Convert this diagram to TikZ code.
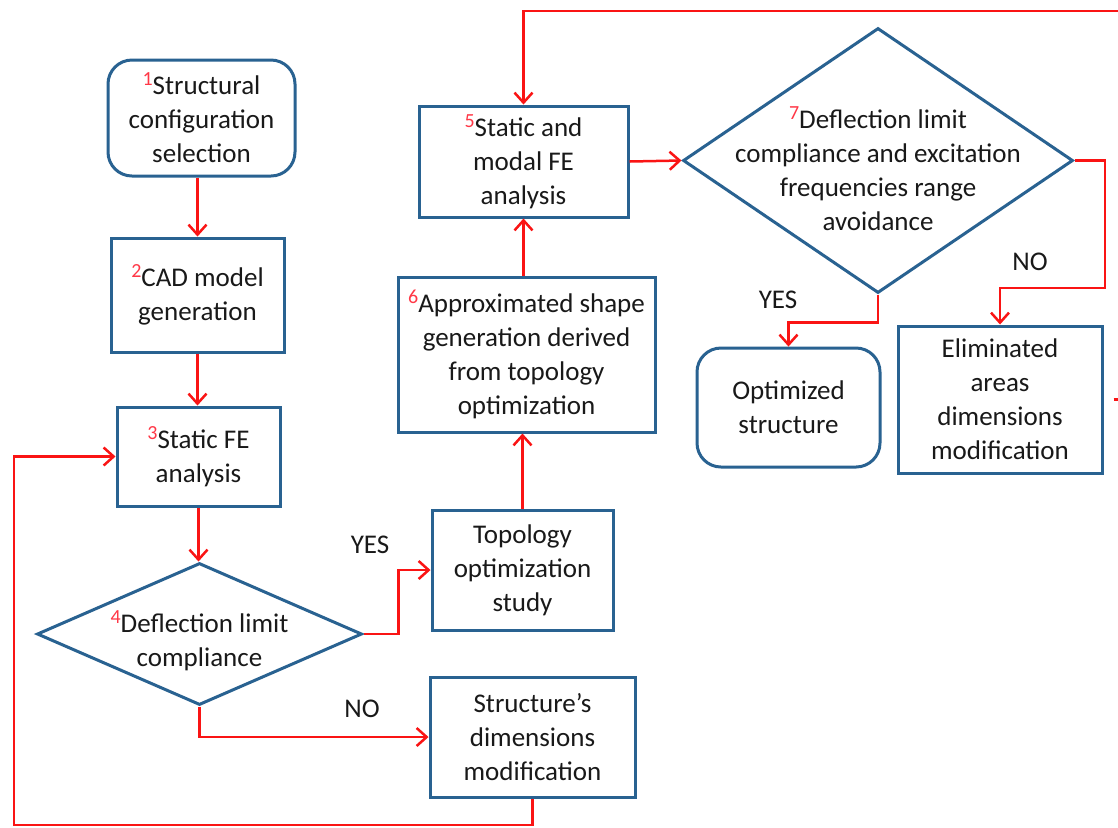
\documentclass[tikz,border=0pt]{standalone}
\usepackage{fontspec}
\setmainfont{Carlito}
\usetikzlibrary{shapes.geometric,arrows.meta}
\definecolor{flowred}{RGB}{250,20,20}
\definecolor{numred}{RGB}{255,55,70}
\definecolor{boxblue}{RGB}{41,98,145}
\definecolor{txtcol}{RGB}{25,25,25}
\newcommand{\stepnum}[1]{\raisebox{4.5pt}{\fontsize{10}{10}\selectfont\color{numred}#1}}
\tikzset{
  base/.style={draw=boxblue, line width=1.5pt, fill=white, text=txtcol, align=center,
    font=\fontsize{13.5}{17}\selectfont, inner sep=2pt},
  stepbox/.style={base, rectangle},
  roundbox/.style={base, rectangle, rounded corners=12pt},
  decision/.style={base, diamond, inner sep=0pt},
  dtext/.style={text=txtcol, align=center, font=\fontsize{13.5}{17}\selectfont},
  lbl/.style={text=txtcol, font=\fontsize{13.5}{17}\selectfont},
  arr/.style={draw=flowred, line width=1.25pt, -{Straight Barb[length=5pt,width=9pt]}},
}
\begin{document}
\begin{tikzpicture}[x=0.5pt,y=-0.5pt]
\clip (0,0) rectangle (1118,827);
\fill[white] (0,0) rectangle (1118,827);

% left column
\node[roundbox, minimum width=93.5pt, minimum height=58pt] (b1) at (201.5,118)
  {\stepnum{1}Structural\\configuration\\selection};
\node[stepbox, minimum width=86.5pt, minimum height=57pt] (b2) at (197.5,295)
  {\stepnum{2}CAD model\\generation};
\node[stepbox, minimum width=81.5pt, minimum height=49.5pt] (b3) at (198.5,456.5)
  {\stepnum{3}Static FE\\analysis};
\node[decision, minimum width=162.5pt, minimum height=71pt,
  label={[dtext, yshift=-3.5pt]center:{\stepnum{4}Deflection limit\\compliance}}] (d4) at (199.5,634) {};

% middle column
\node[stepbox, minimum width=90.5pt, minimum height=60pt] (topo) at (522.5,570)
  {Topology\\optimization\\study};
\node[stepbox, minimum width=102.5pt, minimum height=60pt] (strc) at (532.5,737)
  {Structure’s\\dimensions\\modification};
\node[stepbox, minimum width=128.5pt, minimum height=77.5pt] (b6) at (526.5,354.5)
  {\stepnum{6}Approximated shape\\generation derived\\from topology\\optimization};
\node[stepbox, minimum width=104.5pt, minimum height=55.5pt] (b5) at (523.5,161.5)
  {\stepnum{5}Static and\\modal FE\\analysis};

% right column
\node[decision, minimum width=195pt, minimum height=132.5pt,
  label={[dtext, yshift=-4pt]center:{\stepnum{7}Deflection limit\\compliance and excitation\\frequencies range\\avoidance}}] (d7) at (878,160.5) {};
\node[roundbox, minimum width=91.5pt, minimum height=59.5pt] (opt) at (788.5,407.5)
  {Optimized\\structure};
\node[stepbox, minimum width=102pt, minimum height=73.5pt] (elim) at (1000,399.5)
  {Eliminated\\areas\\dimensions\\modification};

% branch labels
\node[lbl] (yes4) at (370,545) {YES};
\node[lbl] (no4) at (362,709) {NO};
\node[lbl] (yes7) at (778,300) {YES};
\node[lbl] (no7) at (1030,262) {NO};

% helper coordinates
\coordinate (loopBL) at (14,825);
\coordinate (noCorner) at (1105,288);
\coordinate (rTop) at (1150,11);

% connectors
\draw[arr] (b1.south -| b2.north) -- (b2.north);
\draw[arr] (b2.south) -- (b2.south |- b3.north);
\draw[arr] (b3.south) -- (b3.south |- d4.north);
\draw[arr] (d4.east) -- ++(35,0) |- (topo.west);
\draw[arr] (d4.south) |- (strc.west);
\draw[arr] (strc.south) |- (loopBL) |- (b3.west);
\draw[arr] (topo.north) -- (topo.north |- b6.south);
\draw[arr] (b6.north -| b5.south) -- (b5.south);
\draw[arr] (b5.east) -- (d7.west);
\draw[arr] (d7.south) -- ++(0,28) -| (opt.north);
\draw[arr] (d7.east) -| (noCorner) -| (elim.north);
\draw[arr, shorten <=5pt] (elim.east) -| (rTop) -| (b5.north);
\end{tikzpicture}
\end{document}
